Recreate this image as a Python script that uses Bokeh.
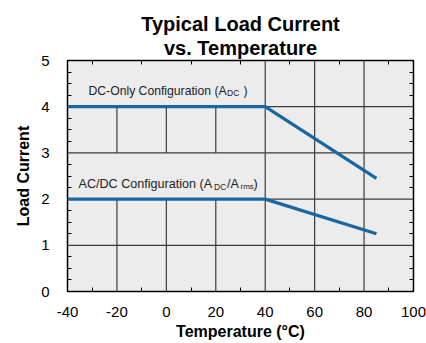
from bokeh.plotting import figure
from bokeh.models import Range1d, FixedTicker, LinearAxis, Label, Title
from bokeh.embed import file_html
from bokeh.resources import INLINE

# ---- data ----
title_lines = ["Typical Load Current", "vs. Temperature"]
x_label = "Temperature (°C)"
y_label = "Load Current"
x_ticks = [-40, -20, 0, 20, 40, 60, 80, 100]
x_tick_labels = ["-40", "-20", "0", "20", "40", "60", "80", "100"]
y_ticks = [0, 1, 2, 3, 4, 5]
x_minor = [-30, -10, 10, 30, 50, 70, 90]
y_minor = [0.25, 0.5, 0.75, 1.25, 1.5, 1.75, 2.25, 2.5, 2.75, 3.25, 3.5, 3.75, 4.25, 4.5, 4.75]

dc_temp = [-40, 40, 85]
dc_current = [4, 4, 2.45]
ac_temp = [-40, 40, 85]
ac_current = [2, 2, 1.25]

# label bands (rows without inner vertical gridlines) : (y_low, y_high, x_end)
bands = [(4, 5, 40), (2, 3, 40)]

LINE_COLOR = "#1a66a0"
BG = "#ececec"
GRID = "#3c3c3c"
FONT = "Liberation Sans"

p = figure(width=426, height=343, output_backend="svg", toolbar_location=None,
           x_range=Range1d(x_ticks[0], x_ticks[-1]), y_range=Range1d(y_ticks[0], y_ticks[-1]),
           min_border_left=67, min_border_right=13, min_border_top=60, min_border_bottom=52)
p.background_fill_color = BG
p.border_fill_color = "white"
p.outline_line_color = "black"
p.outline_line_width = 1.5
p.xgrid.visible = False
p.ygrid.visible = False

xt = FixedTicker(ticks=x_ticks, minor_ticks=x_minor)
yt = FixedTicker(ticks=y_ticks, minor_ticks=y_minor)

def style_axis(ax):
    ax.axis_line_color = None
    ax.major_tick_line_color = None
    ax.minor_tick_in = 4
    ax.minor_tick_out = 0
    ax.minor_tick_line_color = "black"
    ax.minor_tick_line_width = 1
    ax.major_label_text_font = FONT
    ax.major_label_text_font_size = "15px"
    ax.major_label_text_color = "black"
    ax.axis_label_text_font = FONT
    ax.axis_label_text_font_style = "bold"
    ax.axis_label_text_font_size = "16px"
    ax.axis_label_text_color = "black"

xa = p.xaxis[0]
xa.ticker = xt
xa.axis_label = x_label
style_axis(xa)
xa.major_label_overrides = {t: s for t, s in zip(x_ticks, x_tick_labels)}
xa.major_label_standoff = 9
xa.axis_label_standoff = 3

ya = p.yaxis[0]
ya.ticker = yt
ya.axis_label = y_label
style_axis(ya)
ya.major_label_standoff = 12
ya.axis_label_standoff = 6

# top / right axes: only inward minor ticks
top = LinearAxis(ticker=FixedTicker(ticks=[], minor_ticks=x_minor))
style_axis(top)
top.axis_label = None
top.major_tick_out = 19
p.add_layout(top, "above")
right = LinearAxis(ticker=FixedTicker(ticks=[], minor_ticks=y_minor))
style_axis(right)
right.axis_label = None
p.add_layout(right, "right")

# two-line title (added nearest-first)
for t in [title_lines[1], title_lines[0]]:
    ttl = Title(text=t, align="center", vertical_align="top", text_font=FONT,
                text_font_style="bold", text_font_size="20px", text_color="black",
                text_line_height=0.85, standoff=0)
    p.add_layout(ttl, "above")

# gridlines (major), skipping label bands
vx0, vx1, vy0, vy1 = [], [], [], []
for x in x_ticks[1:-1]:
    segs = [(y_ticks[0], y_ticks[-1])]
    for (b0, b1, bx) in bands:
        if x < bx:
            new = []
            for (s0, s1) in segs:
                if b1 <= s0 or b0 >= s1:
                    new.append((s0, s1))
                else:
                    if s0 < b0:
                        new.append((s0, b0))
                    if b1 < s1:
                        new.append((b1, s1))
            segs = new
    for (s0, s1) in segs:
        vx0.append(x); vx1.append(x); vy0.append(s0); vy1.append(s1)
for y in y_ticks[1:-1]:
    vx0.append(x_ticks[0]); vx1.append(x_ticks[-1]); vy0.append(y); vy1.append(y)
p.segment(vx0, vy0, vx1, vy1, line_color=GRID, line_width=1.2)

# data lines
p.line(dc_temp, dc_current, line_color=LINE_COLOR, line_width=3.2)
p.line(ac_temp, ac_current, line_color=LINE_COLOR, line_width=3.2)

# series labels with subscripts: (text, x_offset, y_offset, size)
def add_parts(x, y, parts):
    for (t, dx, dy, size) in parts:
        p.add_layout(Label(x=x, y=y, x_offset=dx, y_offset=dy, text=t,
                           text_align="left", text_baseline="alphabetic",
                           text_font=FONT, text_font_size=size,
                           text_color="#222222"))

add_parts(dc_temp[0], dc_current[0], [
    ("DC-Only Configuration (A", 21, 16, "12.2px"),
    ("DC", 159.5, 14, "8.5px"),
    (")", 176, 16, "12.2px"),
])
add_parts(ac_temp[0], ac_current[0], [
    ("AC/DC Configuration (A", 11, 15.5, "12.6px"),
    ("DC", 146.5, 12.5, "8.5px"),
    ("/A", 159.5, 15.5, "12.6px"),
    ("rms", 173, 12.5, "8px"),
    (")", 186, 15.5, "12.6px"),
])

open("out.html", "w").write(file_html(p, INLINE))
